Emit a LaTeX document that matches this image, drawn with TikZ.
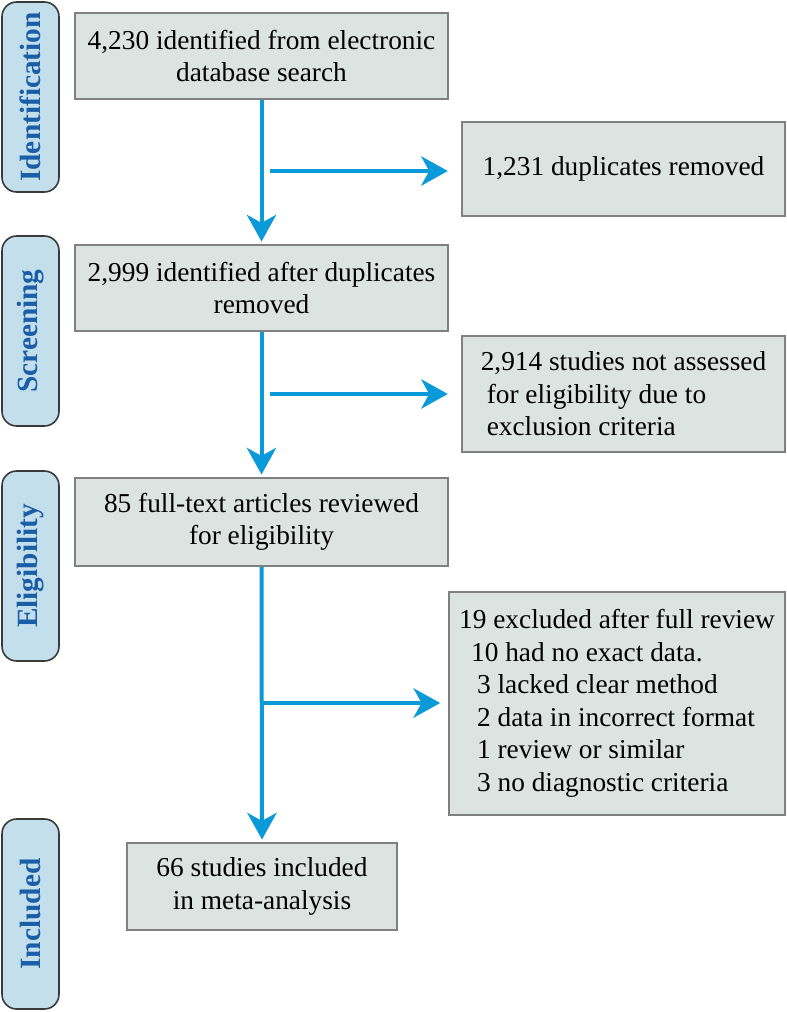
\documentclass[tikz,border=0pt]{standalone}
\usepackage{fontspec}
\setmainfont{Liberation Serif}
\usetikzlibrary{arrows.meta}

\begin{document}
\begin{tikzpicture}[x=0.75pt, y=-0.75pt,
    %Option for big flow arrows
    >={Stealth[length=20pt,width=22pt,inset=6pt]},
    box/.style={draw=boxline, fill=boxfill, line width=1.2pt, inner sep=0pt,
        align=center, font=\fontsize{20.5}{24.4}\selectfont},
    stage/.style={draw=stageline, fill=stagefill, line width=1.2pt, rounded corners=11pt,
        rotate=90, minimum width=142.5pt, minimum height=42.75pt, inner sep=0pt,
        text=stagetext, font=\fontsize{22}{26}\selectfont\bfseries},
    flow/.style={draw=flowblue, line width=3pt, ->},
]
    % Colors
    \definecolor{boxfill}{HTML}{DDE3E0}
    \definecolor{boxline}{HTML}{808080}
    \definecolor{stagefill}{HTML}{C4DFEC}
    \definecolor{stageline}{HTML}{3A3A3A}
    \definecolor{stagetext}{HTML}{1A5EA8}
    \definecolor{flowblue}{HTML}{0B9AD9}

    \useasboundingbox (0,0) rectangle (787,1012);

    % Stages
    \node[stage] (ident)  at (30.5,97)  {Identification};
    \node[stage] (screen) at (30.5,331) {Screening};
    \node[stage] (elig)   at (30.5,566) {Eligibility};
    \node[stage] (incl)   at (30.5,914) {Included};

    % Main column
    \node[box, minimum width=279.75pt, minimum height=64.5pt] (found) at (261.5,56)
        {4,230 identified from electronic\\database search};
    \node[box, minimum width=279.75pt, minimum height=64.5pt] (nodup) at (261.5,288)
        {2,999 identified after duplicates\\removed};
    \node[box, minimum width=279.75pt, minimum height=66pt] (full) at (261.5,522)
        {85 full-text articles reviewed\\for eligibility};
    \node[box, minimum width=202.5pt, minimum height=65.25pt] (incld) at (262,886.5)
        {66 studies included\\in meta-analysis};

    % Side column
    \node[box, minimum width=242.25pt, minimum height=70.5pt] (dup) at (623.5,169)
        {1,231 duplicates removed};
    \node[box, align=left, minimum width=242.25pt, minimum height=87pt] (notass) at (623.5,394)
        {2,914 studies not assessed\\\hspace{4.5pt}for eligibility due to\\\hspace{4.5pt}exclusion criteria};
    \node[box, align=left, minimum width=252pt, minimum height=167.25pt] (excl) at (617,703.5)
        {19 excluded after full review\\
         \hspace{9pt}10 had no exact data.\\
         \hspace{13.5pt}3 lacked clear method\\
         \hspace{13.5pt}2 data in incorrect format\\
         \hspace{13.5pt}1 review or similar\\
         \hspace{13.5pt}3 no diagnostic criteria};

    % Flow down
    \draw[flow, shorten >=2pt] (found.south) -- (nodup.north);
    \draw[flow, shorten >=2pt] (nodup.south) -- (full.north);
    \draw[flow, shorten >=2pt] (full.south) -- (incld.north);

    % Flow to the side
    \coordinate (j1) at (270,171);
    \coordinate (j2) at (270,394);
    \coordinate (j3) at (263,703);
    \draw[flow, shorten >=10pt] (j1) -- (j1 -| dup.west);
    \draw[flow, shorten >=10pt] (j2) -- (j2 -| notass.west);
    \draw[flow, shorten >=6pt]  (j3) -- (j3 -| excl.west);
\end{tikzpicture}
\end{document}
